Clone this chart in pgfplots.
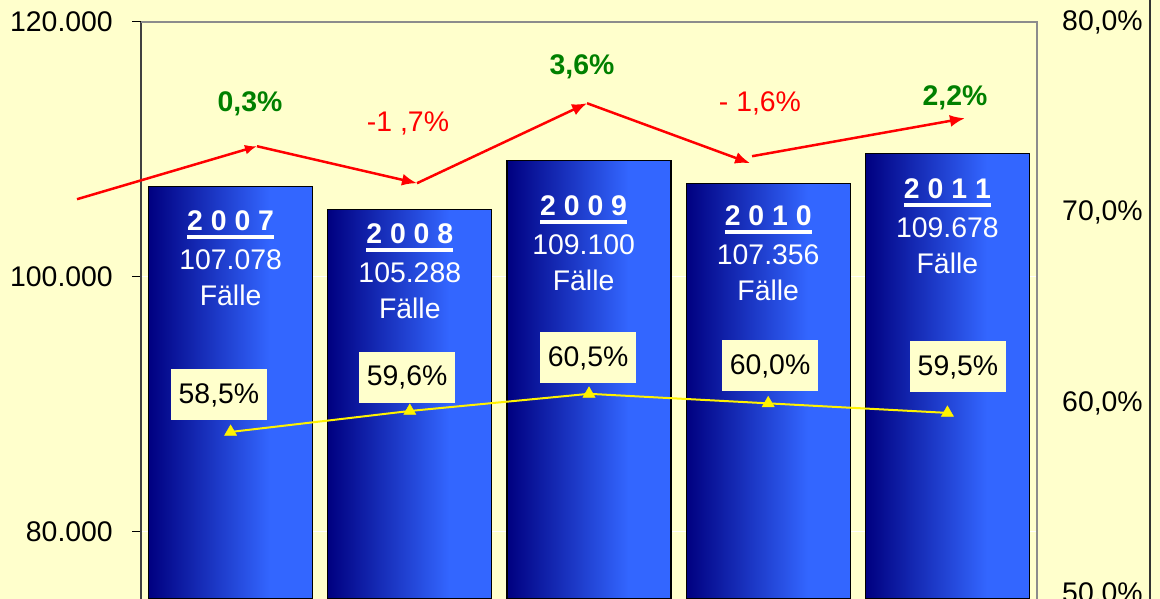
\documentclass[border=0pt]{standalone}
\usepackage{fontspec}
\setmainfont{Liberation Sans}
\usepackage{pgfplots}
\pgfplotsset{compat=1.18}
\usetikzlibrary{arrows.meta}
\definecolor{bg}{RGB}{255,255,204}
\definecolor{navyb}{RGB}{0,0,128}
\definecolor{brightb}{RGB}{51,102,255}
\definecolor{grn}{RGB}{0,128,0}
\pgfdeclarehorizontalshading{barshade}{100bp}{color(0bp)=(navyb); color(25bp)=(navyb); color(62bp)=(brightb); color(100bp)=(brightb)}
\newsavebox\yrbox
\newcommand\yr[1]{\sbox\yrbox{\bfseries #1}\rlap{\vrule width\wd\yrbox height -5bp depth 9bp}\usebox\yrbox}
\newcommand\bigf{\fontsize{28.5}{37}\selectfont}
\tikzset{
  barst/.style={ybar, bar width=0.916, draw=black, line width=1.2bp, shade, shading=barshade},
  arr/.style={red, line width=2.5bp, -{Latex[length=15bp,width=12bp]}},
  pbox/.style={fill=bg, minimum width=96bp, minimum height=51bp, inner sep=0pt, font=\bigf},
  blab/.style={text=white, align=center, anchor=north, inner sep=0pt, font=\bigf},
}
\begin{document}
\begin{tikzpicture}[x=1bp,y=1bp]
\fill[bg] (0,0) rectangle (1160,599);
\useasboundingbox (0,0) rectangle (1160,599);
\draw[black!80, line width=2bp] (1150,0) -- (1150,599);
\begin{axis}[
  at={(141bp,0bp)}, anchor=south west,
  width=896bp, height=577bp, scale only axis,
  xmin=0.5, xmax=5.5, ymin=74722, ymax=120000,
  axis x line=none, axis y line*=left,
  scaled y ticks=false,
  ytick={80000,100000,120000}, yticklabels={80.000,100.000,120.000},
  tick align=outside, major tick length=9bp,
  tick style={black, line width=1bp},
  axis line style={black!75, line width=1.5bp},
  ymajorgrids, major grid style={white, line width=1.2bp},
  yticklabel style={font=\bigf, inner sep=0pt, xshift=-19bp},
  clip=false,
]
\addplot[barst] coordinates {(1,107078)};
\addplot[barst] coordinates {(2,105288)};
\addplot[barst] coordinates {(3,109100)};
\addplot[barst] coordinates {(4,107356)};
\addplot[barst] coordinates {(5,109678)};
\draw[black!45, line width=1.5bp] (rel axis cs:0,1) -- (rel axis cs:1,1) -- (rel axis cs:1,0);
% red trend arrows
\addplot[red, line width=2.5bp, -{Latex[length=12bp,width=10bp]}] coordinates {(0.143,106094) (1.147,110251)};
\addplot[arr] coordinates {(1.147,110251) (2.040,107349)};
\addplot[arr] coordinates {(2.040,107349) (2.989,113624)};
\addplot[arr] coordinates {(2.989,113624) (3.899,108918)};
\addplot[arr] coordinates {(3.910,109467) (5.098,112447)};
% change labels
\node[text=grn, font=\bfseries\bigf] at (axis cs:1.108,113545) {0,3\%};
\node[text=red, font=\bigf] at (axis cs:1.990,112055) {-1 ,7\%};
\node[text=grn, font=\bfseries\bigf] at (axis cs:2.961,116447) {3,6\%};
\node[text=red, font=\bigf] at (axis cs:3.954,113624) {- 1,6\%};
\node[text=grn, font=\bfseries\bigf] at (axis cs:5.042,114016) {2,2\%};
% bar labels
\node[blab] at (axis cs:1,105231) {\yr{2 0 0 7}\\[2bp]107.078\\F\"alle};
\node[blab] at (axis cs:2,104212) {\yr{2 0 0 8}\\[2bp]105.288\\F\"alle};
\node[blab] at (axis cs:2.97,106408) {\yr{2 0 0 9}\\[2bp]109.100\\F\"alle};
\node[blab] at (axis cs:4,105624) {\yr{2 0 1 0}\\[2bp]107.356\\F\"alle};
\node[blab] at (axis cs:5,107741) {\yr{2 0 1 1}\\[2bp]109.678\\F\"alle};
\end{axis}
\begin{axis}[
  at={(141bp,0bp)}, anchor=south west,
  width=896bp, height=577bp, scale only axis,
  xmin=0.5, xmax=5.5, ymin=49.74, ymax=80,
  axis x line=none, axis y line*=right,
  axis line style={draw=none},
  ytick={50,60,70,80}, yticklabels={{50,0\%},{60,0\%},{70,0\%},{80,0\%}},
  major tick length=0pt,
  yticklabel style={font=\bigf, inner sep=0pt, anchor=west, xshift=25bp},
  clip=false,
]
\addplot[yellow, line width=2bp, mark=triangle*, mark size=7bp, mark options={fill=yellow, draw=yellow, line width=0.5bp}]
  coordinates {(1,58.5) (2,59.6) (3,60.5) (4,60.0) (5,59.5)};
\node[pbox] at (axis cs:0.935,60.44) {58,5\%};
\node[pbox] at (axis cs:1.985,61.38) {59,6\%};
\node[pbox] at (axis cs:2.995,62.38) {60,5\%};
\node[pbox] at (axis cs:4.010,61.96) {60,0\%};
\node[pbox] at (axis cs:5.059,61.91) {59,5\%};
\end{axis}
\end{tikzpicture}
\end{document}
